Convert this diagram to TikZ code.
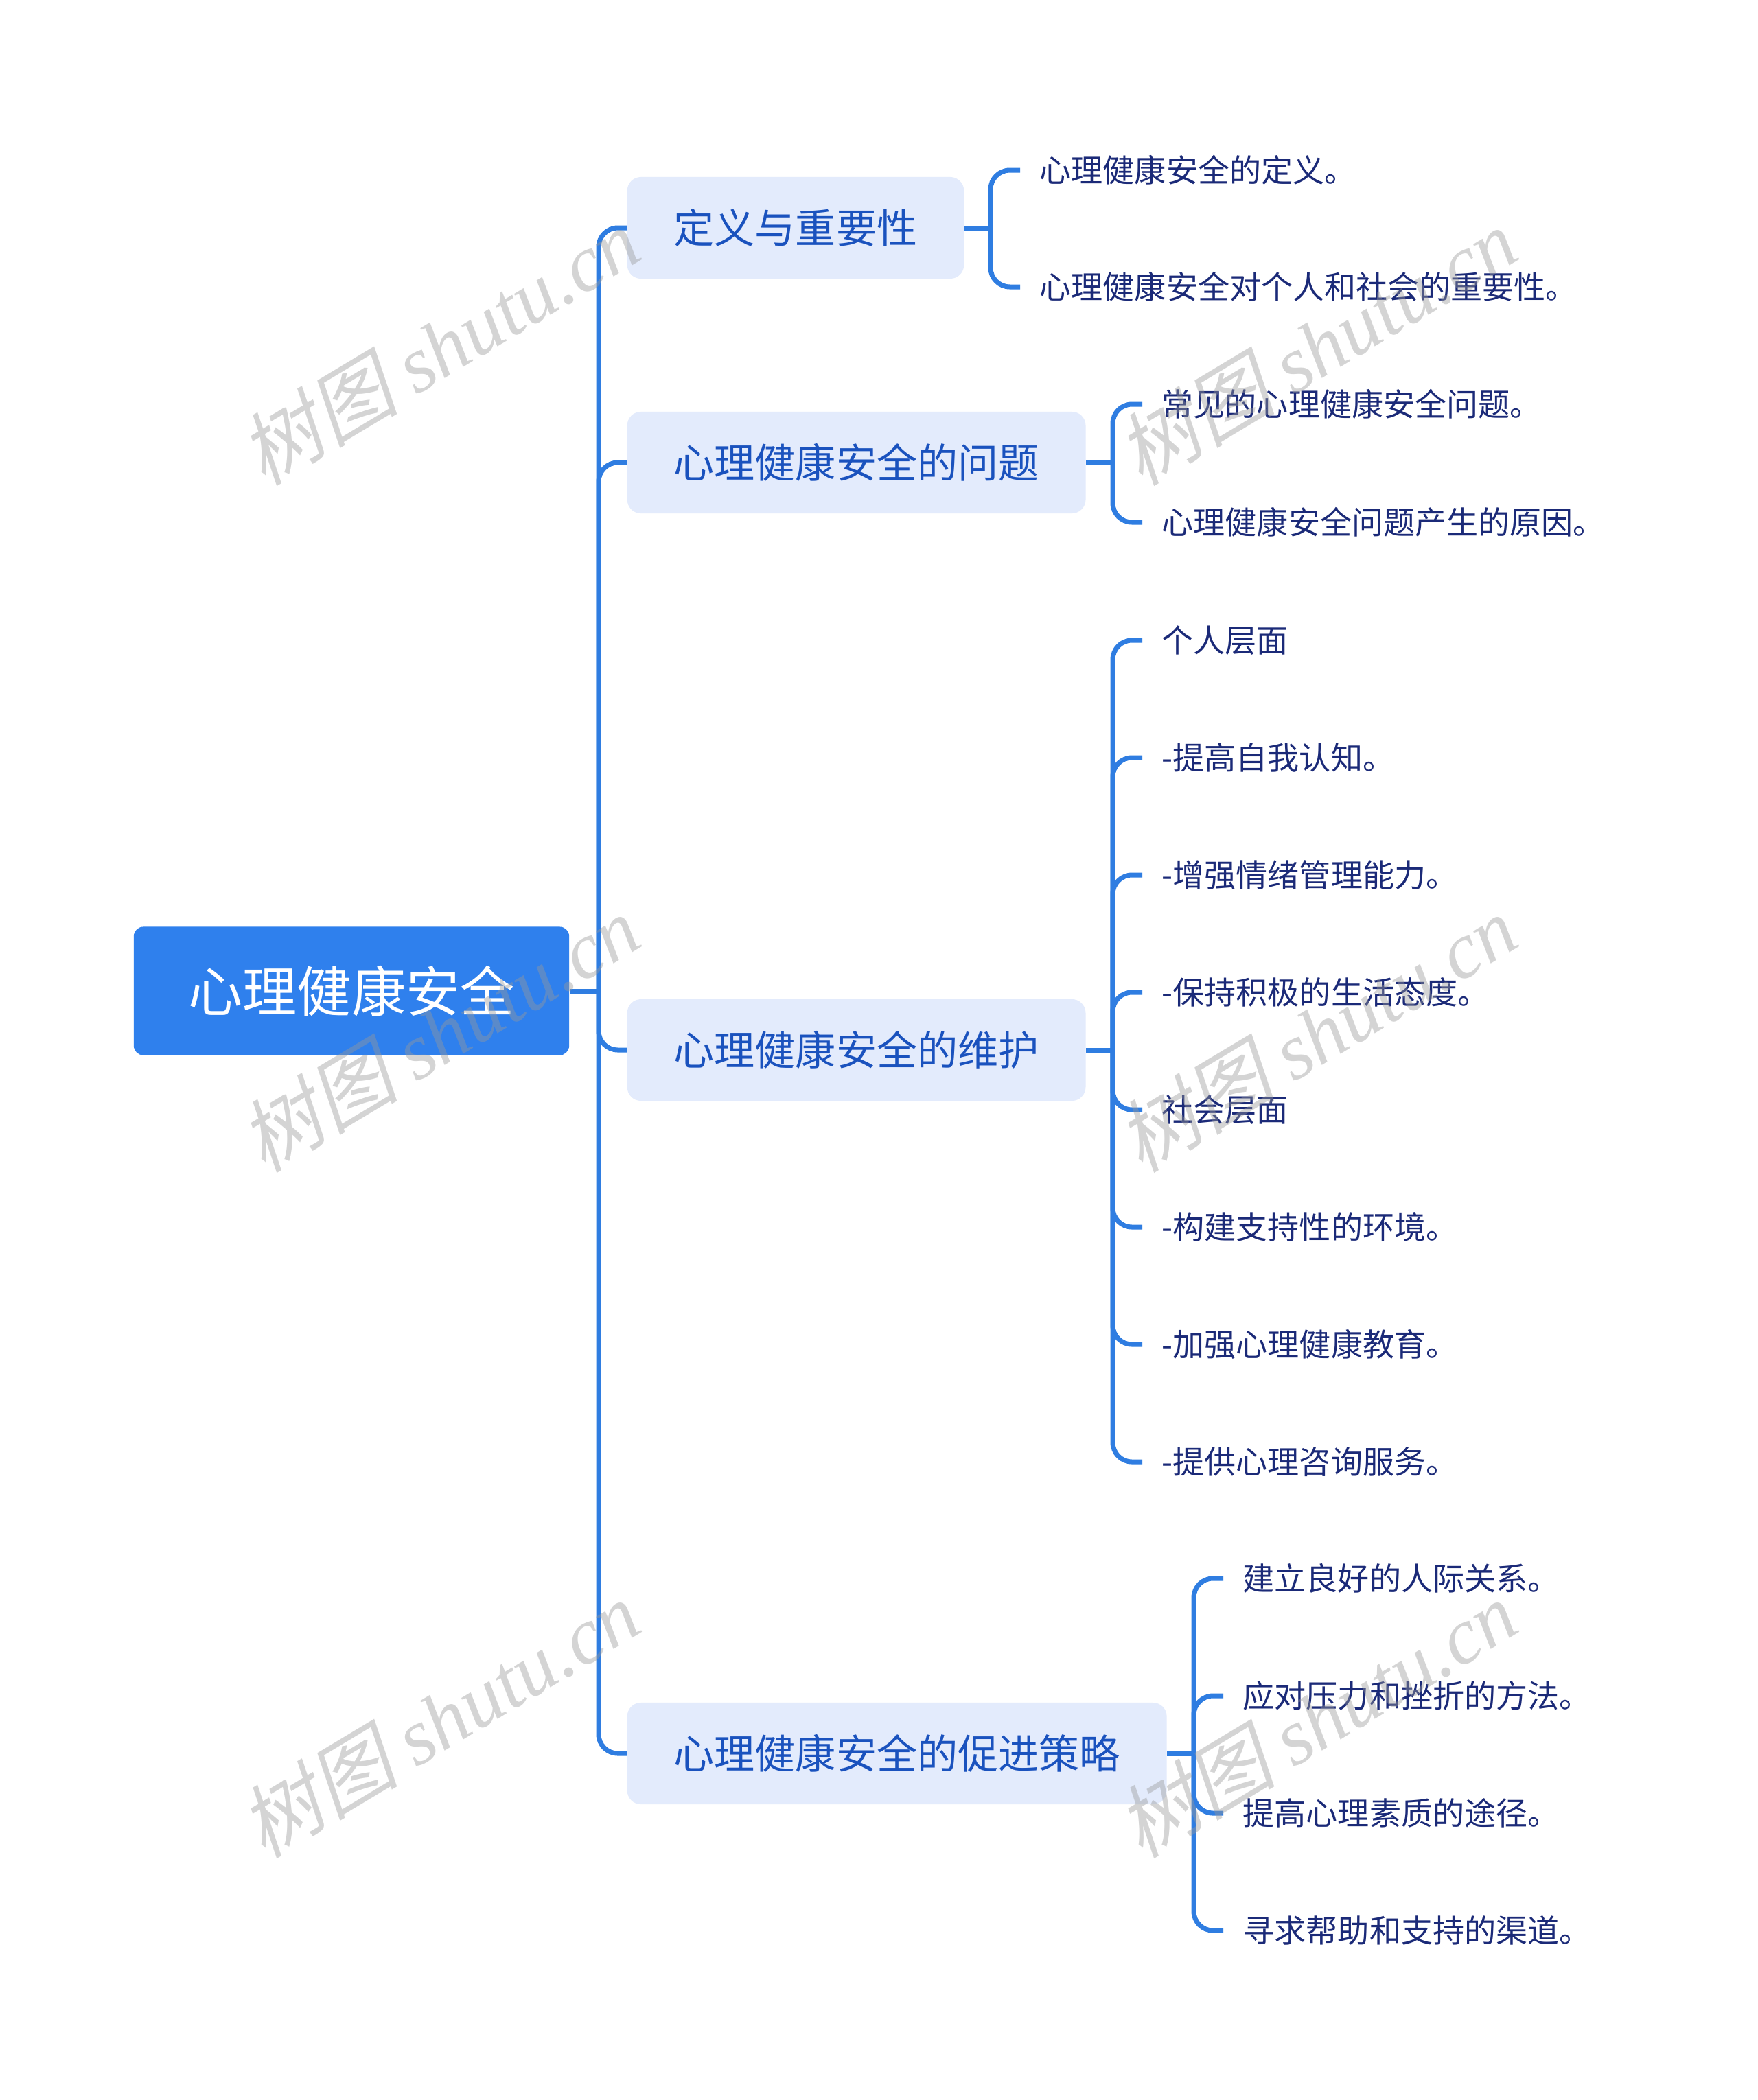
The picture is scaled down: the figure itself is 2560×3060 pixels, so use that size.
\documentclass[tikz,border=0pt]{standalone}
\usepackage{fontspec}
\setmainfont{Noto Sans CJK SC}
\newfontfamily\wmcjk[FakeSlant=0.22]{Noto Sans CJK SC}
\newfontfamily\wmlat{Liberation Serif}
\definecolor{rootblue}{HTML}{2F80ED}
\definecolor{lineblue}{HTML}{2F7DE1}
\definecolor{boxfill}{HTML}{E3EBFC}
\definecolor{boxtext}{HTML}{1A52BE}
\definecolor{leaftext}{HTML}{1B2A78}
\tikzset{
  conn/.style={draw=lineblue, line width=0.07cm, rounded corners=0.28cm},
  rootnode/.style={rectangle, fill=rootblue, text=white, rounded corners=0.14cm,
    minimum width=6.34cm, minimum height=1.87cm, inner sep=0,
    font=\fontsize{22.5}{26}\selectfont, text height=0.695cm, text depth=0.095cm},
  topic/.style={rectangle, fill=boxfill, text=boxtext, rounded corners=0.2cm,
    minimum height=1.48cm, inner xsep=0.68cm, inner ysep=0, anchor=west,
    font=\fontsize{16.8}{20}\selectfont, text height=0.519cm, text depth=0.071cm},
  leaf/.style={anchor=west, text=leaftext, inner xsep=0.28cm, inner ysep=0,
    font=\fontsize{13.1}{16}\selectfont, text height=0.405cm, text depth=0.055cm},
  wm/.style={text=black!40, opacity=0.42, rotate=31, inner sep=0,
    font=\fontsize{33}{38}\selectfont}
}
\begin{document}
\begin{tikzpicture}[x=0.01cm,y=-0.01cm]
\fill[white] (0,0) rectangle (2560,3060);
\useasboundingbox (0,0) rectangle (2560,3060);

% root
\node[rootnode] (root) at (512,1444) {心理健康安全};

% topics
\node[topic] (A) at (913,332) {定义与重要性};
\node[topic] (B) at (913,674) {心理健康安全的问题};
\node[topic] (C) at (913,1530) {心理健康安全的维护};
\node[topic] (D) at (913,2555) {心理健康安全的促进策略};

% trunk
\coordinate (j0) at (872,1444);
\draw[conn] (root.east) -- (j0);
\foreach \t in {A,B,C,D} { \draw[conn] (j0) |- (\t.west); }

% leaves A
\node[leaf] (a1) at (1486,248) {心理健康安全的定义。};
\node[leaf] (a2) at (1486,418) {心理健康安全对个人和社会的重要性。};
\coordinate (ja) at (1443,332);
\draw[conn] (A.east) -- (ja);
\foreach \l in {a1,a2} { \draw[conn] (ja) |- (\l.west); }

% leaves B
\node[leaf] (b1) at (1664,589) {常见的心理健康安全问题。};
\node[leaf] (b2) at (1664,761) {心理健康安全问题产生的原因。};
\coordinate (jb) at (1621,674);
\draw[conn] (B.east) -- (jb);
\foreach \l in {b1,b2} { \draw[conn] (jb) |- (\l.west); }

% leaves C
\node[leaf] (c1) at (1664,933) {个人层面};
\node[leaf] (c2) at (1664,1104) {-提高自我认知。};
\node[leaf] (c3) at (1664,1275) {-增强情绪管理能力。};
\node[leaf] (c4) at (1664,1446) {-保持积极的生活态度。};
\node[leaf] (c5) at (1664,1617) {社会层面};
\node[leaf] (c6) at (1664,1788) {-构建支持性的环境。};
\node[leaf] (c7) at (1664,1959) {-加强心理健康教育。};
\node[leaf] (c8) at (1664,2130) {-提供心理咨询服务。};
\coordinate (jc) at (1621,1530);
\draw[conn] (C.east) -- (jc);
\foreach \l in {c1,c2,c3,c4,c5,c6,c7,c8} { \draw[conn] (jc) |- (\l.west); }

% leaves D
\node[leaf] (d1) at (1782,2300) {建立良好的人际关系。};
\node[leaf] (d2) at (1782,2471) {应对压力和挫折的方法。};
\node[leaf] (d3) at (1782,2642) {提高心理素质的途径。};
\node[leaf] (d4) at (1782,2813) {寻求帮助和支持的渠道。};
\coordinate (jd) at (1739,2555);
\draw[conn] (D.east) -- (jd);
\foreach \l in {d1,d2,d3,d4} { \draw[conn] (jd) |- (\l.west); }

% watermarks
\node[wm] (w1) at (640,505) {{\wmcjk 树图} {\wmlat\itshape shutu.cn}};
\node[wm] (w2) at (640,1506) {{\wmcjk 树图} {\wmlat\itshape shutu.cn}};
\node[wm] (w3) at (640,2505) {{\wmcjk 树图} {\wmlat\itshape shutu.cn}};
\node[wm] (w4) at (1918,505) {{\wmcjk 树图} {\wmlat\itshape shutu.cn}};
\node[wm] (w5) at (1918,1506) {{\wmcjk 树图} {\wmlat\itshape shutu.cn}};
\node[wm] (w6) at (1918,2505) {{\wmcjk 树图} {\wmlat\itshape shutu.cn}};
\end{tikzpicture}
\end{document}
